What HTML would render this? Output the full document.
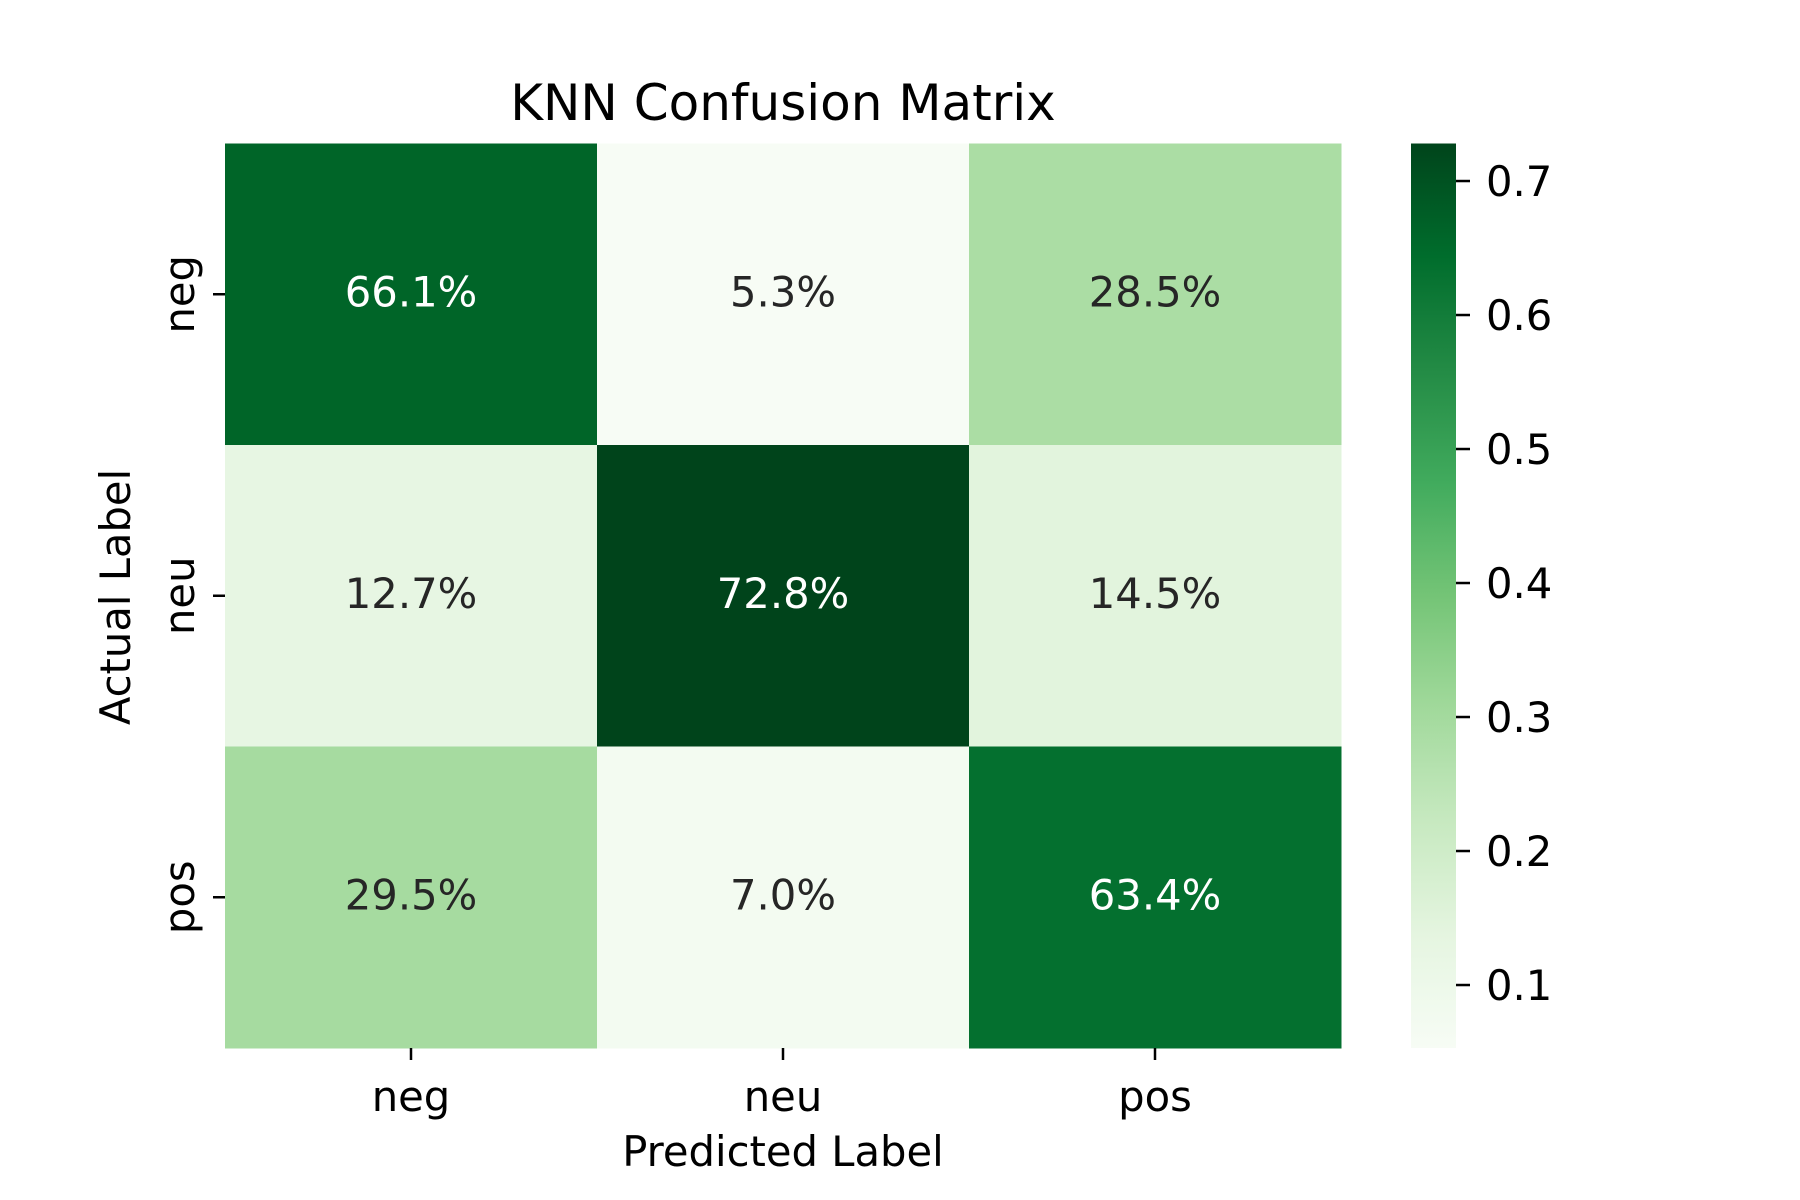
<!DOCTYPE html>
<html><head><meta charset="utf-8"><style>
html,body{margin:0;padding:0;background:#fff;}
svg{display:block;font-family:"DejaVu Sans","Liberation Sans",sans-serif;}
</style></head><body>
<svg id="chart" width="1800" height="1200" viewBox="0 0 1800 1200" xmlns="http://www.w3.org/2000/svg">
<rect width="1800" height="1200" fill="#fff"/>
<text x="783" y="120" font-size="50" text-anchor="middle" fill="#000">KNN Confusion Matrix</text>
<g id="cells"></g>
<g id="axes"></g>
<defs><linearGradient id="cbgrad" x1="0" y1="1" x2="0" y2="0"></linearGradient></defs>
<rect x="1411" y="143.5" width="45" height="904.5" fill="url(#cbgrad)"/>
<g id="cbticks"></g>
<text x="783" y="1166" font-size="41.7" text-anchor="middle" fill="#000">Predicted Label</text>
<text x="0" y="0" font-size="41.7" text-anchor="middle" fill="#000" transform="translate(130,597) rotate(-90)">Actual Label</text>
</svg>
<script>
const labels = ["neg","neu","pos"];
const row0 = [0.661, 0.053, 0.285];
const row1 = [0.127, 0.728, 0.145];
const row2 = [0.295, 0.070, 0.634];
const cbTicks = [0.1,0.2,0.3,0.4,0.5,0.6,0.7];
const rows=[row0,row1,row2];
const vmin=0.053, vmax=0.728;
const NS="http://www.w3.org/2000/svg";
const X0=225,X1=1341,Y0=143.5,Y1=1048;
const cw=(X1-X0)/3, ch=(Y1-Y0)/3;
const FS=41.7;
const greens=["#f7fcf5","#e5f5e0","#c7e9c0","#a1d99b","#74c476","#41ab5d","#238b45","#006d2c","#00441b"];
function hex(h){return [1,3,5].map(i=>parseInt(h.substr(i,2),16));}
function cmap(t){t=Math.max(0,Math.min(1,t));const p=t*8,i=Math.min(7,Math.floor(p)),f=p-i;const a=hex(greens[i]),b=hex(greens[i+1]);return "rgb("+a.map((v,k)=>Math.round(v+(b[k]-v)*f)).join(",")+")";}
function lum(t){const c=cmap(t).match(/\d+/g).map(Number).map(v=>{v/=255;return v<=0.03928?v/12.92:Math.pow((v+0.055)/1.055,2.4);});return 0.2126*c[0]+0.7152*c[1]+0.0722*c[2];}
function yCb(v){return Y1-(v-vmin)/(vmax-vmin)*(Y1-Y0);}
const cells=document.getElementById('cells');
rows.forEach((r,i)=>r.forEach((v,j)=>{
  const t=(v-vmin)/(vmax-vmin);
  const rc=document.createElementNS(NS,'rect');
  
  
  rc.setAttribute('x',X0+j*cw);rc.setAttribute('y',Y0+i*ch);
  rc.setAttribute('width',cw+0.5);rc.setAttribute('height',ch+0.5);
  rc.setAttribute('fill',cmap(t));cells.appendChild(rc);
  const tx=document.createElementNS(NS,'text');
  
  
  tx.setAttribute('x',X0+(j+0.5)*cw);tx.setAttribute('y',Y0+(i+0.5)*ch+12);
  tx.setAttribute('font-size',FS);tx.setAttribute('text-anchor','middle');
  tx.setAttribute('fill',lum(t)>0.408?'#262626':'#ffffff');
  tx.textContent=(v*100).toFixed(1)+'%';cells.appendChild(tx);
}));
const axes=document.getElementById('axes');
labels.forEach((l,k)=>{
  const cx=X0+(k+0.5)*cw, cy=Y0+(k+0.5)*ch;
  const t1=document.createElementNS(NS,'line');
  
  
  t1.setAttribute('x1',cx);t1.setAttribute('x2',cx);t1.setAttribute('y1',Y1);t1.setAttribute('y2',Y1+12);
  t1.setAttribute('stroke','#000');t1.setAttribute('stroke-width','2.5');axes.appendChild(t1);
  const l1=document.createElementNS(NS,'text');
  
  
  l1.setAttribute('x',cx);l1.setAttribute('y',1111);l1.setAttribute('font-size',FS);l1.setAttribute('text-anchor','middle');
  l1.textContent=l;axes.appendChild(l1);
  const t2=document.createElementNS(NS,'line');
  
  
  t2.setAttribute('x1',X0-12);t2.setAttribute('x2',X0);t2.setAttribute('y1',cy);t2.setAttribute('y2',cy);
  t2.setAttribute('stroke','#000');t2.setAttribute('stroke-width','2.5');axes.appendChild(t2);
  const l2=document.createElementNS(NS,'text');
  
  
  l2.setAttribute('x',0);l2.setAttribute('y',0);l2.setAttribute('font-size',FS);l2.setAttribute('text-anchor','middle');
  l2.setAttribute('transform','translate(194,'+cy+') rotate(-90)');
  l2.textContent=l;axes.appendChild(l2);
});
const grad=document.getElementById('cbgrad');
for(let k=0;k<=16;k++){const s=document.createElementNS(NS,'stop');s.setAttribute('offset',k/16);s.setAttribute('stop-color',cmap(k/16));grad.appendChild(s);}
const cbt=document.getElementById('cbticks');
cbTicks.forEach(v=>{
  const y=yCb(v);
  const ln=document.createElementNS(NS,'line');
  
  
  ln.setAttribute('x1',1456);ln.setAttribute('x2',1470);ln.setAttribute('y1',y);ln.setAttribute('y2',y);
  ln.setAttribute('stroke','#000');ln.setAttribute('stroke-width','2.5');cbt.appendChild(ln);
  const tx=document.createElementNS(NS,'text');
  
  
  tx.setAttribute('x',1486);tx.setAttribute('y',y+15);tx.setAttribute('font-size',FS);
  tx.textContent=v.toFixed(1);cbt.appendChild(tx);
});
</script>
</body></html>
